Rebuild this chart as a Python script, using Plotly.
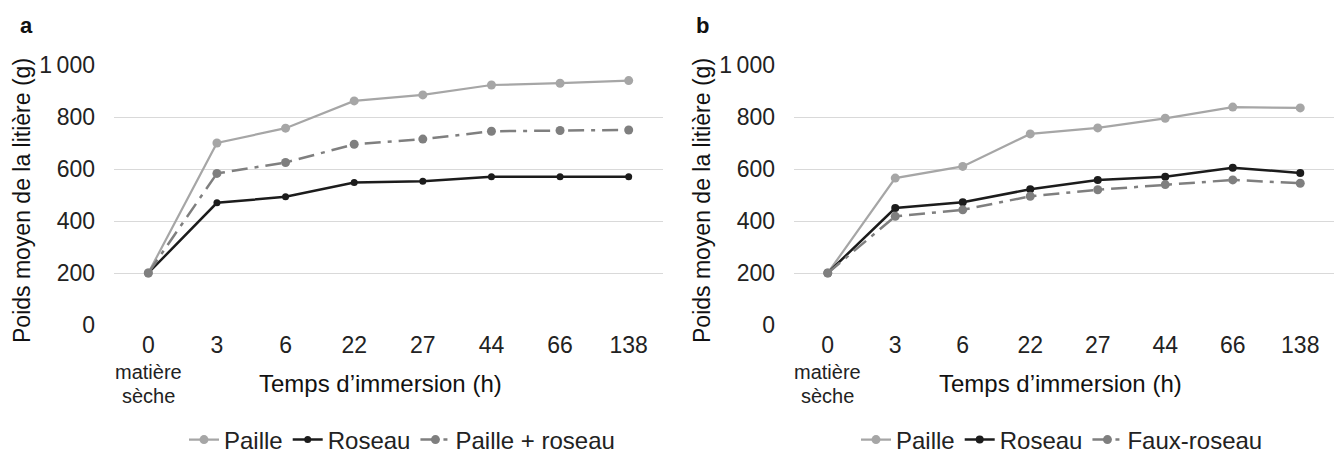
import plotly.graph_objects as go

categories = ["0", "3", "6", "22", "27", "44", "66", "138"]
tick_labels = ["0", "3", "6", "22", "27", "44", "66", "138"]
zero_sublabel = ["matière", "sèche"]
y_ticks = [0, 200, 400, 600, 800, 1000]
y_tick_labels = ["0", "200", "400", "600", "800", "1\u2009000"]

a_paille = [200, 700, 757, 862, 885, 923, 930, 940]
a_roseau = [200, 470, 493, 548, 553, 570, 570, 570]
a_mix = [200, 583, 625, 695, 715, 745, 748, 750]

b_paille = [200, 565, 610, 735, 758, 795, 838, 835]
b_roseau = [200, 450, 472, 522, 558, 570, 605, 585]
b_faux = [200, 418, 443, 495, 520, 540, 558, 545]

FONT = "Liberation Sans, Arial, sans-serif"
C_PAILLE = "#a6a6a6"
C_ROSEAU = "#1c1c1c"
C_MIX = "#7f7f7f"
DASHDOT = "16px,7px,4px,7px"

fig = go.Figure()

def add(x_axis, y_axis, name, vals, color, dash, msize, width, legend):
    fig.add_trace(go.Scatter(
        x=categories, y=vals, name=name, mode="lines+markers",
        line=dict(color=color, width=width, dash=dash),
        marker=dict(color=color, size=msize),
        xaxis=x_axis, yaxis=y_axis, legend=legend, cliponaxis=False))

add("x", "y", "Paille", a_paille, C_PAILLE, "solid", 9, 2.2, "legend")
add("x", "y", "Roseau", a_roseau, C_ROSEAU, "solid", 7, 2.5, "legend")
add("x", "y", "Paille + roseau", a_mix, C_MIX, DASHDOT, 9, 2.5, "legend")
add("x2", "y2", "Paille", b_paille, C_PAILLE, "solid", 9, 2.2, "legend2")
add("x2", "y2", "Roseau", b_roseau, C_ROSEAU, "solid", 8, 2.5, "legend2")
add("x2", "y2", "Faux-roseau", b_faux, C_MIX, DASHDOT, 9, 2.5, "legend2")

W, H = 1334, 465
ydom = [1 - 325 / H, 1 - 65 / H]

xcommon = dict(type="category", categoryorder="array", categoryarray=categories,
               tickvals=categories, ticktext=tick_labels, showgrid=False,
               showline=False, zeroline=False, ticks="", ticklen=0,
               tickfont=dict(size=23, color="#222222", family=FONT),
               range=[-0.5, 7.5], automargin=False, ticklabelstandoff=4)
ycommon = dict(range=[0, 1000], tickvals=y_ticks, ticktext=y_tick_labels,
               showgrid=True, gridcolor="#d9d9d9", gridwidth=1,
               zeroline=False, showline=False, ticks="",
               tickfont=dict(size=23, color="#222222", family=FONT),
               domain=ydom, automargin=False, ticklabelstandoff=18)

legend_common = dict(orientation="h", y=1 - 440 / H, xanchor="center",
                     yanchor="middle", font=dict(size=24, family=FONT, color="#222222"),
                     itemwidth=30, bgcolor="rgba(0,0,0,0)", tracegroupgap=0)

fig.update_layout(
    width=W, height=H,
    margin=dict(l=0, r=0, t=0, b=0, autoexpand=False),
    paper_bgcolor="white", plot_bgcolor="white",
    font=dict(family=FONT, color="#222222"),
    xaxis=dict(xcommon, domain=[114 / W, 663 / W], anchor="y"),
    yaxis=dict(ycommon, anchor="x"),
    xaxis2=dict(xcommon, domain=[794 / W, 1.0], anchor="y2"),
    yaxis2=dict(ycommon, anchor="x2"),
    legend=dict(legend_common, x=402 / W),
    legend2=dict(legend_common, x=1062 / W),
    showlegend=True,
)

anns = [
    dict(text="<b>a</b>", x=26 / W, y=1 - 26 / H, size=22),
    dict(text="<b>b</b>", x=702 / W, y=1 - 26 / H, size=22),
    dict(text="Temps d’immersion (h)", x=380 / W, y=1 - 383 / H, size=24),
    dict(text="Temps d’immersion (h)", x=1060 / W, y=1 - 383 / H, size=24),
    dict(text="Poids moyen de la litière (g)", x=22 / W, y=1 - 201 / H, size=23, angle=-90),
    dict(text="Poids moyen de la litière (g)", x=702 / W, y=1 - 201 / H, size=23, angle=-90),
]
for a in anns:
    fig.add_annotation(text=a["text"], x=a["x"], y=a["y"], xref="paper", yref="paper",
                       showarrow=False, xanchor="center", yanchor="middle",
                       textangle=a.get("angle", 0),
                       font=dict(size=a.get("size", 20), family=FONT, color="#111111"))

# "matière sèche" under the 0 category of each panel
for xr in ["x", "x2"]:
    for i, word in enumerate(zero_sublabel):
        fig.add_annotation(text=word, x=categories[0], xref=xr,
                           y=1 - (372 + 24 * i) / H, yref="paper",
                           showarrow=False, xanchor="center", yanchor="middle",
                           font=dict(size=20, family=FONT, color="#222222"))

fig.write_html("out.html", config={"displayModeBar": False},
               post_script="document.body.style.margin='0';document.body.style.padding='0';")
